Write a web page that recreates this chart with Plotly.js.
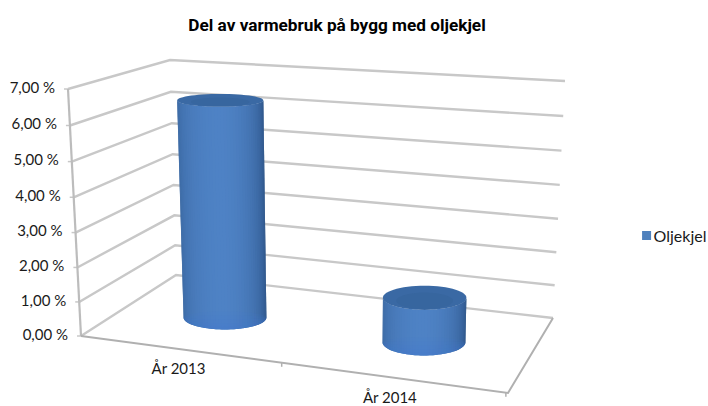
<!DOCTYPE html>
<html><head><meta charset="utf-8">
<script src="https://cdn.plot.ly/plotly-3.0.1.min.js"></script>
<style>html,body{margin:0;padding:0;background:#fff}#c{width:708px;height:406px}</style>
</head><body><div id="c"></div>
<script>
var categories = ["År 2013", "År 2014"];
var values = [6.45, 1.3];
var yTicks = [0, 1, 2, 3, 4, 5, 6, 7];
var yTickLabels = ["0,00 %", "1,00 %", "2,00 %", "3,00 %", "4,00 %", "5,00 %", "6,00 %", "7,00 %"];
var seriesName = "Oljekjel";
var chartTitle = "Del av varmebruk på bygg med oljekjel";

// Oblique view: (position along categories, depth, percent) -> plot position
var yMax = 7;
function mix(a, b, t) { return a + (b - a) * t; }
function proj(u, v, val) {
  var t = val / yMax;
  t = t + 0.04 * t * (t - 1);
  var fx = mix(mix(81, 508, u), mix(176, 553, u), v);
  var fy = mix(mix(336, 393, u), mix(275, 318, u), v);
  var hx = mix(mix(-13, 5, u), mix(-6, 12, u), v);
  var hy = mix(mix(-247, -270, u), mix(-215, -237, u), v);
  return [fx + hx * t, fy + hy * t];
}
var traces = [];
function line(pts, color, width) {
  traces.push({x: pts.map(function (p) { return p[0]; }), y: pts.map(function (p) { return p[1]; }),
    mode: "lines", line: {color: color, width: width, simplify: false}, showlegend: false, hoverinfo: "skip"});
}
function poly(pts, color) {
  traces.push({x: pts.map(function (p) { return p[0]; }), y: pts.map(function (p) { return p[1]; }),
    mode: "lines", fill: "toself", fillcolor: color, line: {width: 0, simplify: false}, showlegend: false, hoverinfo: "skip"});
}
var grid = "#c8c8c8";
yTicks.forEach(function (v) {
  line([proj(0, 0, v), proj(0, 1, v), proj(1, 1, v)], grid, 2.4);
  var a = proj(0, 0, v);
  line([[a[0] - 4, a[1]], a], grid, 1.5);
});
line([proj(0, 0, 0), proj(0, 0, yMax)], "#bcbcbc", 2.2);
line([proj(0, 0, 0), proj(1, 0, 0), proj(1, 1, 0)], "#b0b0b0", 2);
[0.47, 0.995].forEach(function (u) {
  var a = proj(u, 0, 0);
  line([a, [a[0], a[1] + 4]], "#b0b0b0", 1.5);
});

// Cylinders
var catU = [0.24, 0.735], ru = 0.103, rv = 0.185, N = 44;
function lerpC(a, b, t) {
  return "rgb(" + a.map(function (c, i) { return Math.round(mix(c, b[i], t)); }).join(",") + ")";
}
function ell(u, val) {
  var c = proj(u, 0.5, val);
  var l = proj(u - ru, 0.5, val), r = proj(u + ru, 0.5, val);
  var f = proj(u, 0.5 - rv, val), b = proj(u, 0.5 + rv, val);
  return {cx: c[0], cy: (f[1] + b[1]) / 2, rx: (r[0] - l[0]) / 2, ry: (f[1] - b[1]) / 2};
}
function pt(e, a) { return [e.cx + e.rx * Math.cos(a), e.cy + e.ry * Math.sin(a)]; }
var cLeft = [58, 103, 160], cMid = [78, 130, 197], cRight = [42, 80, 130];
values.forEach(function (val, i) {
  var u = catU[i], e0 = ell(u, 0), e1 = ell(u, val), k, j;
  // each strip overlaps the next ones a little, so no seams show
  for (k = 0; k < N; k++) {
    var s = (k + 0.5) / N, side = [], end = Math.min(k + 2, N);
    var col = s < 0.5 ? lerpC(cLeft, cMid, Math.sin(s / 0.5 * Math.PI / 2))
                      : lerpC(cMid, cRight, Math.pow((s - 0.5) / 0.5, 1.7));
    for (j = k; j <= end; j++) side.push(pt(e0, Math.PI - Math.PI * j / N));
    for (j = end; j >= k; j--) side.push(pt(e1, Math.PI - Math.PI * j / N));
    poly(side, col);
  }
  // brighter glow along the foot
  [18, 14, 10, 6, 3].forEach(function (d) {
    var c = [];
    for (j = 0; j <= 30; j++) c.push(pt(e0, Math.PI - Math.PI * j / 30));
    for (j = 30; j >= 0; j--) {
      var p = pt(e0, Math.PI - Math.PI * j / 30);
      c.push([p[0], p[1] - d * Math.sin(Math.PI * j / 30)]);
    }
    poly(c, "rgba(62,125,215,0.09)");
  });
  var top = [], inner = [];
  for (k = 0; k <= 60; k++) {
    var a = 2 * Math.PI * k / 60;
    top.push(pt(e1, a));
    inner.push([e1.cx + 0.68 * e1.rx * Math.cos(a), e1.cy + 0.68 * e1.ry * Math.sin(a) + 0.25 * e1.ry]);
  }
  poly(top, "rgb(58,105,164)");
  poly(inner, "rgba(46,88,142,0.2)");
});

// Tick labels
var axisPts = yTicks.map(function (v) { return proj(0, 0, v); });
traces.push({x: axisPts.map(function (p) { return p[0] - 13; }), y: axisPts.map(function (p) { return p[1]; }),
  mode: "text", text: yTickLabels, textposition: "middle left",
  textfont: {family: "Lato", size: 15, color: "#1a1a1a"}, showlegend: false, hoverinfo: "skip"});
var catPts = catU.map(function (u) { return proj(u, 0, 0); });
traces.push({x: catPts.map(function (p) { return p[0] - 5; }), y: catPts.map(function (p) { return p[1] + 21; }),
  mode: "text", text: categories, textposition: "middle center",
  textfont: {family: "Lato", size: 15, color: "#1a1a1a"}, showlegend: false, hoverinfo: "skip"});
// Legend entry
traces.push({x: [null], y: [null], mode: "markers", name: seriesName,
  marker: {symbol: "square", size: 9, color: "#4f81bd"}, showlegend: true, hoverinfo: "skip"});

Plotly.newPlot("c", traces, {
  width: 708, height: 406, margin: {l: 0, r: 0, t: 0, b: 0, autoexpand: false},
  paper_bgcolor: "#fff", plot_bgcolor: "#fff",
  title: {text: "<b>" + chartTitle + "</b>", x: 0.476, xanchor: "center", y: 0.938, yanchor: "middle",
    font: {family: "Roboto", size: 17.2, color: "#000"}},
  xaxis: {range: [0, 708], visible: false, fixedrange: true},
  yaxis: {range: [406, 0], visible: false, fixedrange: true},
  legend: {x: 0.885, xanchor: "left", y: 0.42, yanchor: "middle", bgcolor: "rgba(0,0,0,0)",
    font: {family: "Lato", size: 16, color: "#1a1a1a"}, itemwidth: 30},
  showlegend: true
}, {displayModeBar: false, staticPlot: true}).then(function () {
  // tighten the gap between legend swatch and label
  var t = document.querySelector(".legendtext");
  if (t) t.setAttribute("x", parseFloat(t.getAttribute("x")) - 13);
});
</script></body></html>
